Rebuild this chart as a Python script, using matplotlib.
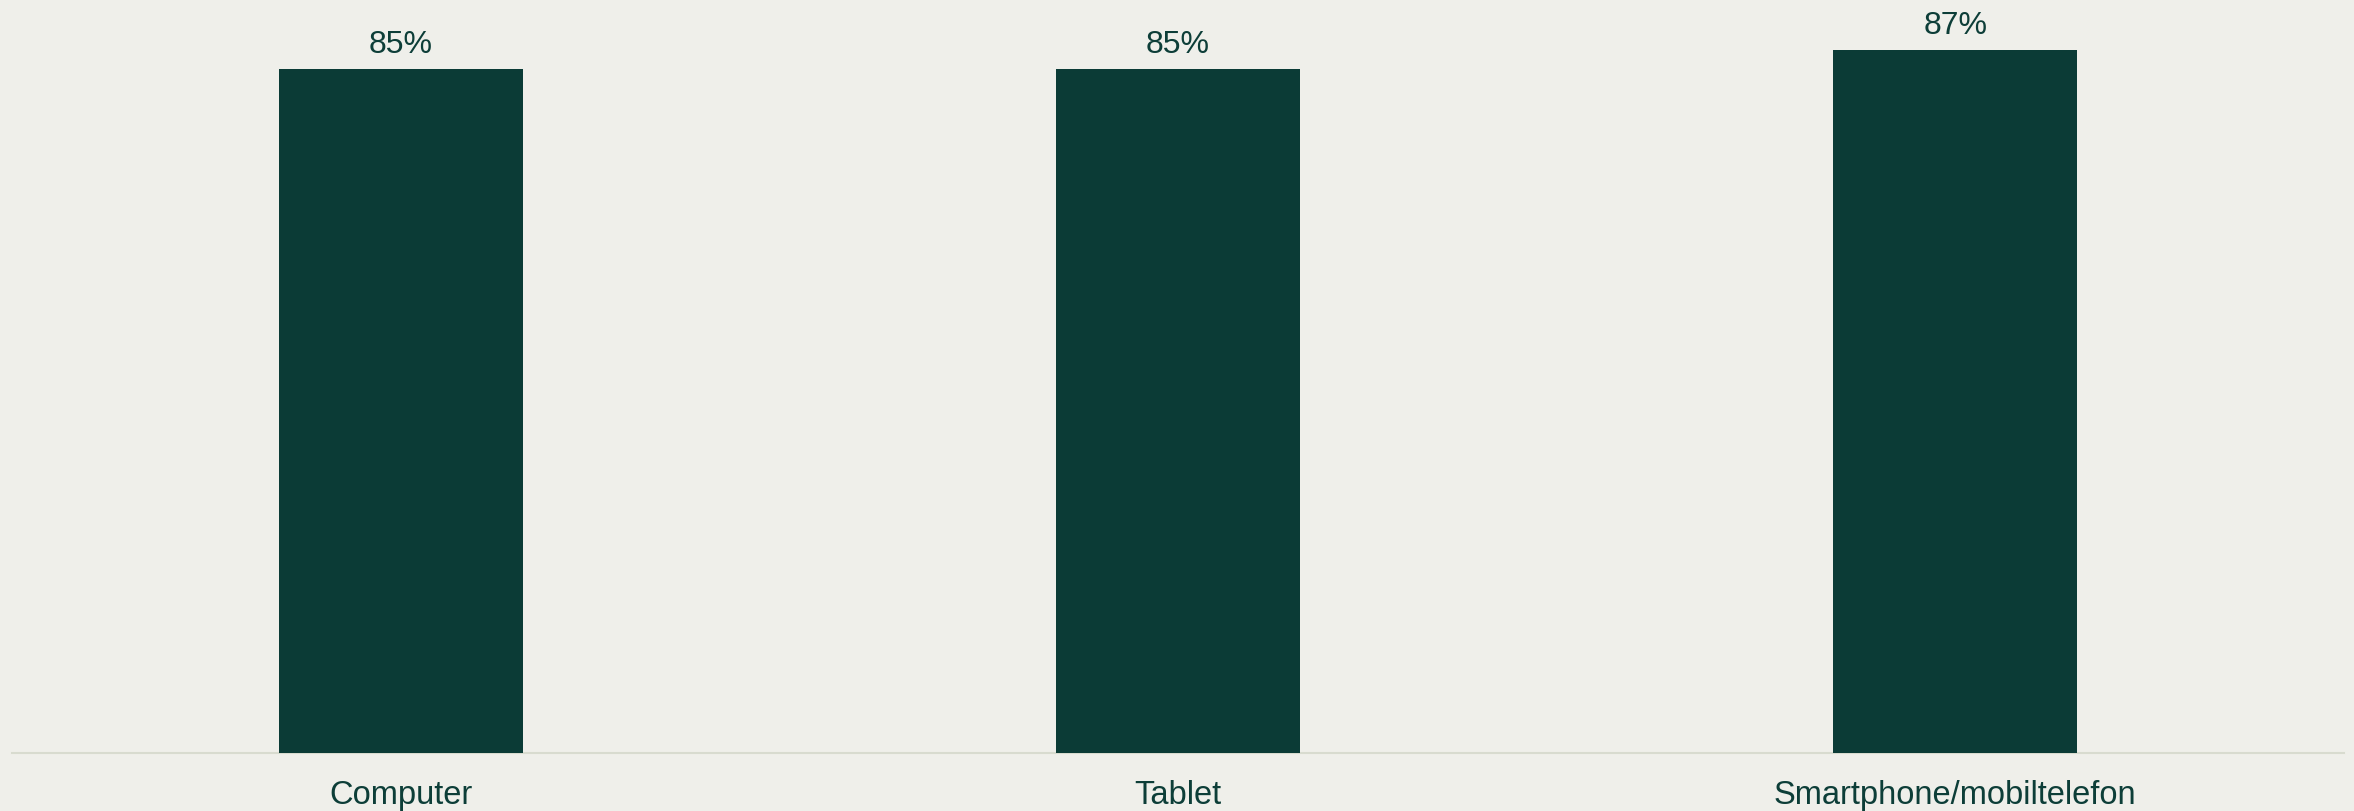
import matplotlib
matplotlib.use("Agg")
import matplotlib.pyplot as plt

categories = ["Computer", "Tablet", "Smartphone/mobiltelefon"]
values = [85.0, 85.0, 87.4]

bg = "#efefea"
bar_color = "#0b3b36"
text_color = "#0d3e38"

plt.rcParams["font.family"] = ["Liberation Sans", "DejaVu Sans"]

fig = plt.figure(figsize=(23.54, 8.12), dpi=100, facecolor=bg)
ax = fig.add_axes([12 / 2354, 58 / 812, 2332 / 2354, 754 / 812], facecolor=bg)

x = range(len(categories))
bars = ax.bar(x, values, width=0.314, color=bar_color, zorder=2)

for b, v in zip(bars, values):
    ax.annotate(f"{round(v)}%", (b.get_x() + b.get_width() / 2, b.get_height()),
                xytext=(0, 12), textcoords="offset points",
                ha="center", va="baseline", fontsize=23, color=text_color)

ax.set_xlim(-0.5, 2.5)
ax.set_ylim(0, 93.7)
ax.set_xticks(list(x))
ax.set_xticklabels(categories, fontsize=23.5, color=text_color)
ax.tick_params(axis="x", length=0, pad=19)
ax.set_yticks([])

for s in ["top", "right", "left"]:
    ax.spines[s].set_visible(False)
ax.spines["bottom"].set_color("#d8dbcf")
ax.spines["bottom"].set_linewidth(1.5)
ax.spines["bottom"].set_zorder(1)

fig.savefig("out.png", dpi=100, facecolor=bg)
